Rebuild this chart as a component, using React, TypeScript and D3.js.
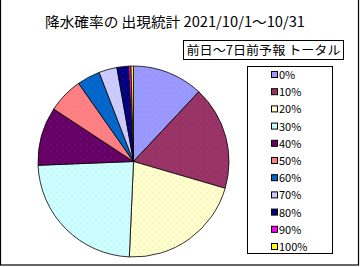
import React from "react";
import * as d3 from "d3";

const categories = ["0%", "10%", "20%", "30%", "40%", "50%", "60%", "70%", "80%", "90%", "100%"];
const values = [43, 63, 76, 85, 35.5, 21.5, 14, 11, 7, 1.5, 1.5];
const colors = ["#9999FF", "#993366", "#FFFFCC", "#CCFFFF", "#660066", "#FF8080", "#0066CC", "#CCCCFF", "#000080", "#FF00FF", "#FFFF00"];
const title = "降水確率の 出現統計 2021/10/1～10/31";
const subtitle = "前日～7日前予報 トータル";

export default function App() {
  const W = 360, H = 267;
  const cx = 133.5, cy = 161.5, r = 95.5;
  const pie = d3.pie<number>().sort(null).value((d) => d)(values);
  const arc = d3.arc<d3.PieArcDatum<number>>().innerRadius(0).outerRadius(r);
  const legendY = d3.scalePoint<string>().domain(categories).range([75, 247]);
  const font = "'Noto Sans CJK JP', 'DejaVu Sans', sans-serif";
  return (
    <svg width={W} height={H} style={{ position: "absolute", left: 0, top: 0, background: "#fff" }}>
      <defs>
        <pattern id="dots" width="6" height="6" patternUnits="userSpaceOnUse">
          <rect x="1" y="1" width="1" height="1" fill="#cc66cc" opacity="0.35" />
          <rect x="4" y="4" width="1" height="1" fill="#6666aa" opacity="0.3" />
        </pattern>
      </defs>
      <rect x={0.5} y={-1} width={358} height={266} fill="#fff" stroke="#000" strokeWidth={1.2} />
      <text x={175} y={27} fontSize={14} fontFamily={font} textAnchor="middle" textLength={260} lengthAdjust="spacingAndGlyphs">{title}</text>
      <rect x={183.5} y={40.5} width={160} height={19} fill="#fff" stroke="#000" strokeWidth={1} />
      <text x={263.5} y={55} fontSize={12.5} fontFamily={font} textAnchor="middle" textLength={154} lengthAdjust="spacingAndGlyphs">{subtitle}</text>
      <g transform={`translate(${cx},${cy})`}>
        {pie.map((p, i) => (
          <g key={categories[i]}>
            <path d={arc(p) || ""} fill={colors[i]} stroke="#000" strokeWidth={0.8} />
            <path d={arc(p) || ""} fill="url(#dots)" stroke="none" />
          </g>
        ))}
      </g>
      <rect x={247.5} y={66.5} width={85} height={187} fill="#fff" stroke="#000" strokeWidth={1} />
      {categories.map((c, i) => {
        const y = legendY(c) as number;
        return (
          <g key={c}>
            <rect x={271.5} y={y - 3.5} width={6} height={6} fill={colors[i]} stroke="#000" strokeWidth={1} />
            <text x={279} y={y + 4} fontSize={11} fontFamily={font}>{c}</text>
          </g>
        );
      })}
    </svg>
  );
}
